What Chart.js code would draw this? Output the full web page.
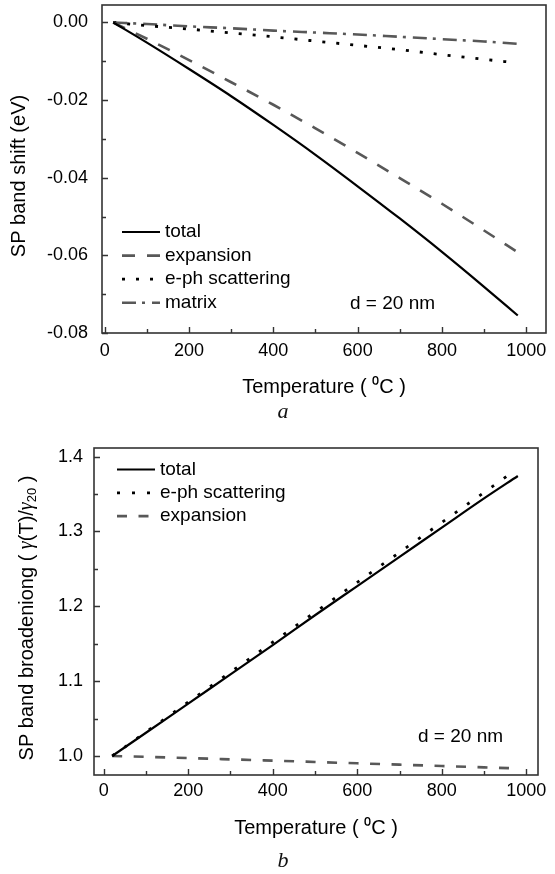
<!DOCTYPE html>
<html><head><meta charset="utf-8">
<script src="https://cdn.jsdelivr.net/npm/chart.js@4.4.1/dist/chart.umd.min.js"></script>
<style>
html,body{margin:0;padding:0;background:#fff}
body{width:555px;height:874px;position:relative;overflow:hidden}
#ca{position:absolute;left:0;top:0}
#cb{position:absolute;left:0;top:440px}
.cap{position:absolute;font-family:"Liberation Serif","DejaVu Serif",serif;font-style:italic;font-size:22px;color:#111;transform:translate(-50%,-50%)}
</style></head><body>
<canvas id="ca" width="555" height="440"></canvas>
<canvas id="cb" width="555" height="434"></canvas>
<div class="cap" style="left:283px;top:411px">a</div>
<div class="cap" style="left:283px;top:860px">b</div>
<script>
// ---------- Panel a: SP band shift (eV) ----------
const tempsA      = [20, 100, 200, 300, 400, 500, 600, 700, 800, 900, 980];
const totalA      = [0, -0.0052, -0.0120, -0.0190, -0.0264, -0.0341, -0.0422, -0.0505, -0.0591, -0.0681, -0.0755];
const expansionA  = [0, -0.0042, -0.0097, -0.0154, -0.0212, -0.0273, -0.0336, -0.0401, -0.0467, -0.0536, -0.0592];
const ephTempsA   = [20, 100, 200, 300, 400, 500, 600, 700, 800, 900, 960];
const ephA        = [0, -0.0008, -0.0017, -0.0027, -0.0037, -0.0048, -0.0059, -0.0070, -0.0083, -0.0095, -0.0102];
const matrixA     = [0, -0.0004, -0.0010, -0.0015, -0.0021, -0.0026, -0.0031, -0.0037, -0.0043, -0.0049, -0.0055];
const yTickValsA  = [-0.08, -0.07, -0.06, -0.05, -0.04, -0.03, -0.02, -0.01, 0];
const yTickLabsA  = ['-0.08', '', '-0.06', '', '-0.04', '', '-0.02', '', '0.00'];

// ---------- Panel b: SP band broadening ----------
const tempsB      = [20, 100, 200, 300, 400, 500, 600, 700, 800, 900, 980];
const totalB      = [1.0, 1.031, 1.070, 1.109, 1.148, 1.188, 1.227, 1.266, 1.305, 1.344, 1.374];
const ephTempsB   = [20, 100, 200, 300, 400, 500, 600, 700, 800, 900, 960];
const ephB        = [1.0, 1.032, 1.072, 1.112, 1.152, 1.192, 1.232, 1.272, 1.312, 1.352, 1.376];
const expansionB  = [1.0, 0.9988, 0.9972, 0.9955, 0.9938, 0.9920, 0.9902, 0.9884, 0.9866, 0.9848, 0.9834];
const yTickValsB  = [1.0, 1.05, 1.1, 1.15, 1.2, 1.25, 1.3, 1.35, 1.4];
const yTickLabsB  = ['1.0', '', '1.1', '', '1.2', '', '1.3', '', '1.4'];

// ---------- shared x ticks ----------
const xTickVals = [0, 100, 200, 300, 400, 500, 600, 700, 800, 900, 1000];
const xTickLabs = ['0', '', '200', '', '400', '', '600', '', '800', '', '1000'];

const FONT = '"Liberation Sans", Arial, sans-serif';
const BLACK = '#000000';
const GRAY = '#585858';
const FRAME = '#333333';

function pts(xs, ys){ return xs.map((x,i)=>({x:x, y:ys[i]})); }

const framePlugin = {
  id: 'frame',
  afterDraw(chart, args, o) {
    const {ctx, chartArea: ca, scales} = chart;
    ctx.save();
    ctx.strokeStyle = FRAME;
    ctx.lineWidth = 1.4;
    ctx.beginPath();
    const xs = scales.x, ys = scales.y;
    xs.ticks.forEach((t,i)=>{
      const p = Math.round(xs.getPixelForValue(t.value)) + 0.5;
      const len = o.xLabs[i] ? o.majorLen : o.minorLen;
      ctx.moveTo(p, ca.bottom); ctx.lineTo(p, ca.bottom - len);
    });
    ys.ticks.forEach((t,i)=>{
      const p = Math.round(ys.getPixelForValue(t.value)) + 0.5;
      const len = o.yLabs[i] ? o.majorLen : o.minorLen;
      ctx.moveTo(ca.left, p); ctx.lineTo(ca.left + len, p);
    });
    ctx.stroke();
    ctx.lineWidth = 1.6;
    ctx.strokeRect(ca.left, ca.top, ca.width, ca.height);

    // legend
    const L = o.legend;
    ctx.font = '19px ' + FONT;
    ctx.textBaseline = 'middle';
    ctx.textAlign = 'left';
    chart.data.datasets.forEach((ds, i)=>{
      const y = L.y0 + i * L.dy;
      ctx.save();
      ctx.strokeStyle = ds.borderColor;
      ctx.lineWidth = ds.borderWidth;
      ctx.setLineDash(ds.borderDash || []);
      ctx.beginPath();
      ctx.moveTo(L.x1, y); ctx.lineTo(L.x2, y);
      ctx.stroke();
      ctx.restore();
      ctx.fillStyle = '#000';
      ctx.fillText(ds.label, L.tx, y);
    });
    // note
    ctx.fillStyle = '#000';
    ctx.fillText(o.note.text, o.note.x, o.note.y);

    // y-axis title (rich text, rotated)
    if (o.richTitle) {
      const R = o.richTitle;
      ctx.save();
      ctx.translate(R.x, R.y);
      ctx.rotate(-Math.PI/2);
      let w = 0;
      R.parts.forEach(p=>{ ctx.font = p.f; w += ctx.measureText(p.t).width; });
      let x = -w/2;
      ctx.textBaseline = 'middle';
      ctx.fillStyle = '#000';
      R.parts.forEach(p=>{
        ctx.font = p.f;
        ctx.fillText(p.t, x, p.dy || 0);
        x += ctx.measureText(p.t).width;
      });
      ctx.restore();
    }
    ctx.restore();
  }
};

function makeX(min, max, height, labPad, titlePadBottom) {
  return {
    type: 'linear', min: min, max: max,
    afterBuildTicks: s => { s.ticks = xTickVals.map(v=>({value:v})); },
    afterFit: s => { s.height = height; s.paddingLeft = 0; s.paddingRight = 0; },
    grid: {display:false, drawTicks:false},
    border: {display:false},
    ticks: {
      callback: (v, i) => xTickLabs[i],
      autoSkip: false, maxRotation: 0, minRotation: 0,
      font: {family: FONT, size: 18}, color: '#000', padding: labPad
    },
    title: {display: true, text: 'Temperature ( \u2070C )', color: '#000',
      font: {family: FONT, size: 20}, padding: {top: 0, bottom: titlePadBottom}}
  };
}
function makeY(min, max, width, vals, labs, labPad) {
  return {
    type: 'linear', min: min, max: max,
    afterBuildTicks: s => { s.ticks = vals.map(v=>({value:v})); },
    afterFit: s => { s.width = width; s.paddingTop = 0; s.paddingBottom = 0; },
    grid: {display:false, drawTicks:false},
    border: {display:false},
    ticks: {
      callback: (v, i) => labs[i],
      autoSkip: false,
      font: {family: FONT, size: 18}, color: '#000', padding: labPad
    },
    title: {display: false}
  };
}

const common = {
  responsive: false, animation: false, devicePixelRatio: 1,
  plugins: {legend: {display:false}, tooltip: {enabled:false}},
  elements: {point: {radius: 0}, line: {cubicInterpolationMode: 'monotone'}}
};

new Chart(document.getElementById('ca'), {
  type: 'line',
  data: { datasets: [
    {label: 'total', data: pts(tempsA, totalA), borderColor: BLACK, borderWidth: 2.2},
    {label: 'expansion', data: pts(tempsA, expansionA), borderColor: GRAY, borderWidth: 2.6, borderDash: [13, 12]},
    {label: 'e-ph scattering', data: pts(ephTempsA, ephA), borderColor: BLACK, borderWidth: 2.8, borderDash: [3, 11]},
    {label: 'matrix', data: pts(tempsA, matrixA), borderColor: GRAY, borderWidth: 2.6, borderDash: [14, 6, 3, 7]}
  ]},
  options: Object.assign({}, common, {
    layout: {padding: {top: 5, right: 9, left: 0, bottom: 0}},
    scales: {
      x: makeX(-6.6, 1047, 107, 7, 41),
      y: makeY(-0.08, 0.0045, 102, yTickValsA, yTickLabsA, 14)
    },
    plugins: Object.assign({}, common.plugins, {
      frame: {
        xLabs: xTickLabs, yLabs: yTickLabsA, majorLen: 6, minorLen: 4,
        legend: {x1: 122, x2: 160, tx: 165, y0: 232, dy: 23.6},
        note: {text: 'd = 20 nm', x: 350, y: 304},
        richTitle: {x: 19, y: 176, parts: [
          {t: 'SP band shift (eV)', f: '20px ' + FONT}
        ]}
      }
    })
  }),
  plugins: [framePlugin]
});

new Chart(document.getElementById('cb'), {
  type: 'line',
  data: { datasets: [
    {label: 'total', data: pts(tempsB, totalB), borderColor: BLACK, borderWidth: 2.2},
    {label: 'e-ph scattering', data: pts(ephTempsB, ephB), borderColor: BLACK, borderWidth: 2.8, borderDash: [3, 12]},
    {label: 'expansion', data: pts(tempsB, expansionB), borderColor: GRAY, borderWidth: 2.6, borderDash: [10, 11.5]}
  ]},
  options: Object.assign({}, common, {
    layout: {padding: {top: 8, right: 17, left: 0, bottom: 0}},
    scales: {
      x: makeX(-23, 1027.7, 99, 5, 34),
      y: makeY(0.9746, 1.4114, 94, yTickValsB, yTickLabsB, 11)
    },
    plugins: Object.assign({}, common.plugins, {
      frame: {
        xLabs: xTickLabs, yLabs: yTickLabsB, majorLen: 6, minorLen: 4,
        legend: {x1: 117, x2: 155, tx: 160, y0: 29.5, dy: 23.3},
        note: {text: 'd = 20 nm', x: 418, y: 297},
        richTitle: {x: 27, y: 178, parts: [
          {t: 'SP band broadeniong ( ', f: '20px ' + FONT},
          {t: '\u03b3', f: 'italic 20px "Liberation Serif", serif'},
          {t: '(T)/', f: '20px ' + FONT},
          {t: '\u03b3', f: 'italic 20px "Liberation Serif", serif'},
          {t: '20', f: '13px ' + FONT, dy: 5},
          {t: ' )', f: '20px ' + FONT}
        ]}
      }
    })
  }),
  plugins: [framePlugin]
});
</script>
</body></html>
